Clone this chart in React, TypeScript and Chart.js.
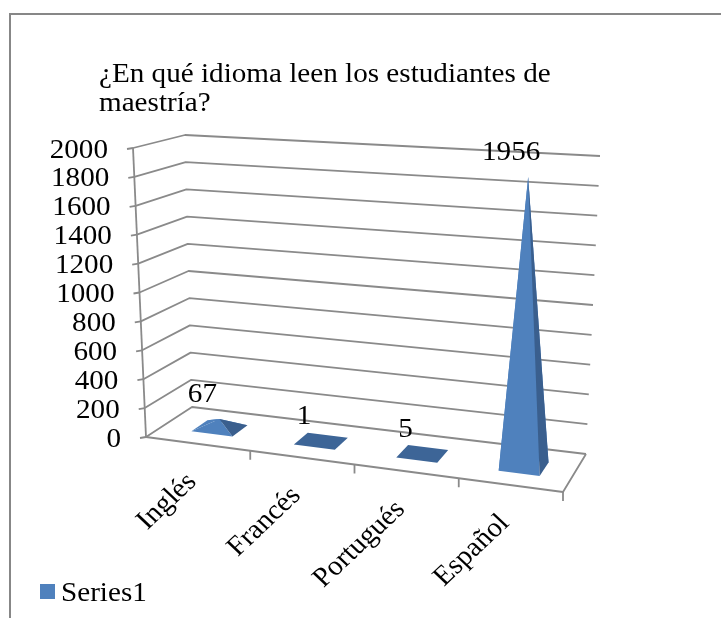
import React, { useEffect, useRef } from 'react';
import { Chart, registerables } from 'chart.js';

Chart.register(...registerables);

// ---- data ----
const titleLines = ['¿En qué idioma leen los estudiantes de', 'maestría?'];
const categories = ['Inglés', 'Francés', 'Portugués', 'Español'];
const seriesName = 'Series1';
const values = [67, 1, 5, 1956];
const yTicks = [0, 200, 400, 600, 800, 1000, 1200, 1400, 1600, 1800, 2000];

// ---- style ----
const FONT_FAMILY = '"Liberation Serif", "Times New Roman", serif';
const FONT_SIZE = 27.5;
const STRETCH = 1.06;
const BLUE = '#4F81BD';
const BLUE_SIDE = '#3A5F8E';
const BLUE_FLAT = '#3D6597';
const GRID = '#8A8A8A';
const BORDER = '#878787';

type Pt = [number, number];

function drawText(ctx: CanvasRenderingContext2D, text: string, x: number, y: number, align: CanvasTextAlign, baseline: CanvasTextBaseline = 'alphabetic', rotate = 0) {
  ctx.save();
  ctx.translate(x, y);
  ctx.scale(STRETCH, 1);
  if (rotate) ctx.rotate(rotate);
  ctx.textAlign = align;
  ctx.textBaseline = baseline;
  ctx.fillStyle = '#000';
  ctx.font = `${FONT_SIZE}px ${FONT_FAMILY}`;
  ctx.fillText(text, 0, 0);
  ctx.restore();
}

const scene3d = {
  id: 'scene3d',
  afterDraw(chart: any) {
    const ctx: CanvasRenderingContext2D = chart.ctx;
    const xs = chart.scales.x;
    const ys = chart.scales.y;
    const L = xs.left, R = xs.right, T = ys.top, B = ys.bottom;
    // frame corners (perspective box) relative to the chart area
    const c = {
      f0l: [L, B] as Pt, f0r: [R, B + 55] as Pt, b0l: [L + 46, B - 30] as Pt, b0r: [R + 23, B + 17] as Pt,
      f1l: [L - 13, T] as Pt, f1r: [R - 1, T + 45] as Pt, b1l: [L + 39, T - 13] as Pt, b1r: [R + 37, T + 8] as Pt,
    };
    const lerp = (a: Pt, b: Pt, t: number): Pt => [a[0] + (b[0] - a[0]) * t, a[1] + (b[1] - a[1]) * t];
    const bil = (fl: Pt, fr: Pt, bl: Pt, br: Pt, x: number, z: number) => lerp(lerp(fl, fr, x), lerp(bl, br, x), z);
    const proj = (x: number, z: number, h: number): Pt =>
      lerp(bil(c.f0l, c.f0r, c.b0l, c.b0r, x, z), bil(c.f1l, c.f1r, c.b1l, c.b1r, x, z), h);
    const xn = (px: number) => (px - L) / (R - L);
    const hn = (v: number) => (B - ys.getPixelForValue(v)) / (B - T);

    ctx.save();
    // outer border
    ctx.strokeStyle = BORDER;
    ctx.lineWidth = 2;
    ctx.beginPath();
    ctx.moveTo(10, 618);
    ctx.lineTo(10, 14);
    ctx.lineTo(721, 14);
    ctx.stroke();

    // gridlines + frame
    ctx.strokeStyle = GRID;
    ctx.lineWidth = 1.8;
    ctx.lineJoin = 'round';
    const poly = (pts: Pt[]) => {
      ctx.beginPath();
      ctx.moveTo(pts[0][0], pts[0][1]);
      for (let i = 1; i < pts.length; i++) ctx.lineTo(pts[i][0], pts[i][1]);
      ctx.stroke();
    };
    yTicks.forEach((v) => {
      const h = hn(v);
      poly([proj(0, 0, h), proj(0, 1, h), proj(1, 1, h)]);
      const p = proj(0, 0, h);
      poly([[p[0] - 6, p[1] + 1], p]);
    });
    poly([proj(0, 0, 0), proj(0, 0, 1)]);
    poly([proj(0, 0, 0), proj(1, 0, 0), proj(1, 1, 0)]);
    const n = categories.length;
    for (let k = 1; k <= n; k++) {
      const p = proj(k / n, 0, 0);
      poly([p, [p[0], p[1] + 9]]);
    }

    // pyramids
    const catW = xn(xs.getPixelForValue(1)) - xn(xs.getPixelForValue(0));
    const face = (pts: Pt[], color: string) => {
      ctx.beginPath();
      ctx.moveTo(pts[0][0], pts[0][1]);
      for (let i = 1; i < pts.length; i++) ctx.lineTo(pts[i][0], pts[i][1]);
      ctx.closePath();
      ctx.fillStyle = color;
      ctx.fill();
    };
    values.forEach((v, i) => {
      const cx = xn(xs.getPixelForValue(i));
      const hw = catW * 0.2;
      const z0 = 0.32, z1 = 0.68;
      const h = hn(v);
      const FL = proj(cx - hw, z0, 0), FR = proj(cx + hw, z0, 0);
      const BR = proj(cx + hw, z1, 0), BL = proj(cx - hw, z1, 0);
      const A = proj(cx, 0.5, h);
      const base = proj(cx, 0.5, 0);
      if (base[1] - A[1] < 3) {
        face([FL, FR, BR, BL], BLUE_FLAT);
      } else {
        face([BR, BL, A], BLUE);
        face([BL, FL, A], BLUE);
        face([FL, FR, A], BLUE);
        face([FR, BR, A], BLUE_SIDE);
      }
      // data label
      drawText(ctx, String(v), A[0] - 17, A[1] - 26 + 9.5, 'center');
      // category label
      const f = proj(cx, 0, 0);
      drawText(ctx, categories[i], f[0] - 6, f[1] + 34, 'right', 'middle', -Math.PI / 4);
    });

    // y tick labels
    yTicks.forEach((v) => {
      const p = proj(0, 0, hn(v));
      drawText(ctx, String(v), p[0] - 25, p[1] + 9.5, 'right');
    });

    // title
    drawText(ctx, titleLines[0], 99, 82, 'left');
    drawText(ctx, titleLines[1], 99, 111, 'left');

    // legend
    ctx.fillStyle = BLUE;
    ctx.fillRect(40, 584, 15, 15);
    drawText(ctx, seriesName, 61, 601, 'left');
    ctx.restore();
  },
};

export default function App() {
  const ref = useRef<HTMLCanvasElement>(null);
  useEffect(() => {
    if (!ref.current) return;
    const chart = new Chart(ref.current, {
      type: 'bar',
      data: {
        labels: categories,
        datasets: [{ label: seriesName, data: values, backgroundColor: 'rgba(0,0,0,0)', borderWidth: 0 }],
      },
      options: {
        responsive: false,
        animation: false,
        devicePixelRatio: 1,
        layout: { padding: { left: 146, right: 158, top: 148, bottom: 181 } },
        plugins: { legend: { display: false }, title: { display: false }, tooltip: { enabled: false } },
        scales: {
          x: { display: false },
          y: { display: false, min: 0, max: 2000 },
        },
      },
      plugins: [scene3d],
    });
    return () => chart.destroy();
  }, []);
  return (
    <div style={{ position: 'fixed', left: 0, top: 0, width: 721, height: 618, background: '#fff' }}>
      <canvas ref={ref} width={721} height={618} style={{ width: 721, height: 618, display: 'block' }} />
    </div>
  );
}
